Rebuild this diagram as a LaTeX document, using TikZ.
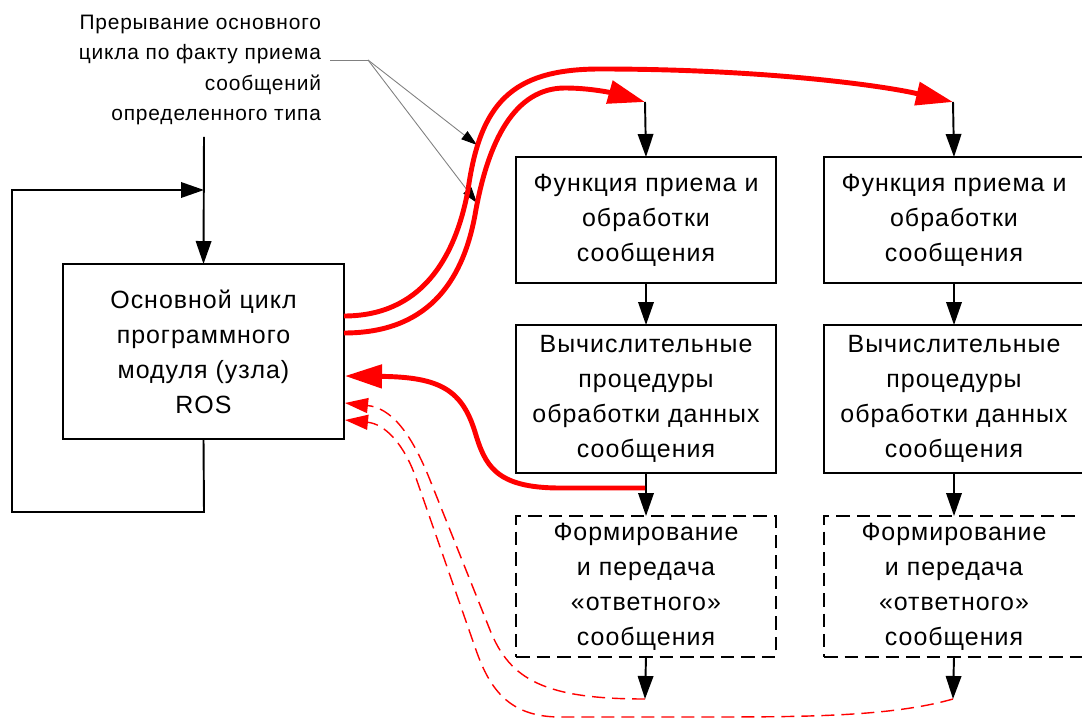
\documentclass[tikz,border=0pt]{standalone}
\usepackage{fontspec}
\setmainfont{Liberation Sans}
\newfontfamily\spacedsans[LetterSpace=4]{Liberation Sans}
\usetikzlibrary{arrows.meta}
\begin{document}
\begin{tikzpicture}[x=0.02cm,y=-0.02cm,
  every node/.style={inner sep=0pt, outer sep=0pt},
  block/.style={draw, line width=1.1pt, minimum width=5.2cm, align=center,
    font=\spacedsans\fontsize{14.2pt}{19.9pt}\selectfont},
  dblock/.style={block, dash pattern=on 0.27cm off 0.14cm},
  flow/.style={line width=1.1pt, -{Triangle[length=0.46cm,width=0.31cm]}},
  callred/.style={red, line width=2.8pt, -{Triangle[length=0.74cm,width=0.46cm]}},
  replyred/.style={red, line width=0.8pt, dash pattern=on 0.26cm off 0.14cm,
    -{Triangle[length=0.46cm,width=0.3cm]}},
  lead/.style={gray, line width=0.5pt},
  leadarr/.style={lead, -{Triangle[length=0.32cm,width=0.2cm,color=black]}},
  note/.style={align=right, font=\spacedsans\fontsize{11.9pt}{17.3pt}\selectfont}
]
\useasboundingbox (0,0) rectangle (1082,719);
\clip (0,0) rectangle (1082,719);

% main loop of the ROS node
\node[block, minimum width=5.62cm, minimum height=3.5cm] (main) at (203.5,351.5)
  {Основной цикл\\программного\\модуля (узла)\\ROS};

% callback columns
\foreach \c/\x in {1/646, 2/954} {
  \node[block, minimum height=2.52cm] (A\c) at (\x,220)
    {Функция приема и\\обработки\\сообщения};
  \node[block, minimum height=2.96cm] (B\c) at (\x,399)
    {Вычислительные\\процедуры\\обработки данных\\сообщения};
  \node[dblock, minimum height=2.82cm] (C\c) at (\x,586.5)
    {Формирование\\и передача\\«ответного»\\сообщения};
  \coordinate (in\c) at (\x-1,102);
  \coordinate (out\c) at (\x-1,699);
  \draw[flow] (in\c) -- (A\c.north);
  \draw[flow] (A\c.south) -- (B\c.north);
  \draw[flow] (B\c.south) -- (C\c.north);
  \draw[flow] (C\c.south) -- (out\c);
}

% annotation
\node[note, anchor=north east] (lbl) at (321,15)
  {Прерывание основного\\цикла по факту приема\\сообщений\\определенного типа};
\coordinate (lead0) at (330,60);
\coordinate (lead1) at (368,60);
\coordinate (hit1) at (477,145);
\coordinate (hit2) at (477,203);
\draw[lead] (lead0) -- (lead1);
\draw[leadarr] (lead1) -- (hit1);
\draw[leadarr] (lead1) -- (hit2);

% external input and the endless loop
\coordinate (top) at (204,137);
\coordinate (join) at (204,190);
\coordinate (lp1) at (204,512);
\coordinate (lp2) at (12,512);
\coordinate (lp3) at (12,190);
\draw[flow] (top) -- (main.north);
\draw[flow] (main.south) -- (lp1) -- (lp2) -- (lp3) -- (join);

% interrupt calls into the callbacks
\coordinate (s1) at (344,333);
\coordinate (s2) at (344,316);
\draw[callred] (s1) .. controls (425,333) and (462,285) .. (475,215)
  .. controls (488,140) and (515,88) .. (565,88)
  .. controls (595,88) and (620,95) .. (in1);
\draw[callred] (s2) .. controls (420,316) and (455,260) .. (468,190)
  .. controls (480,105) and (510,69) .. (600,69)
  .. controls (760,69) and (880,85) .. (in2);

% return to the main loop
\coordinate (r1) at (645,488);
\coordinate (e0) at (345,376);
\draw[callred] (r1) -- (560,488) .. controls (495,488) and (485,465) .. (475,432)
  .. controls (462,390) and (440,377) .. (e0);

% returns after sending the reply message
\coordinate (e1) at (345,403);
\coordinate (e2) at (345,420);
\draw[replyred] (out1) .. controls (545,699) and (510,680) .. (490,630)
  -- (430,480) .. controls (410,430) and (390,408) .. (e1);
\draw[replyred] (out2) .. controls (890,717) and (800,717) .. (700,717)
  -- (560,717) .. controls (510,717) and (490,690) .. (476,650)
  -- (416,478) .. controls (404,444) and (385,424) .. (e2);
\end{tikzpicture}
\end{document}
